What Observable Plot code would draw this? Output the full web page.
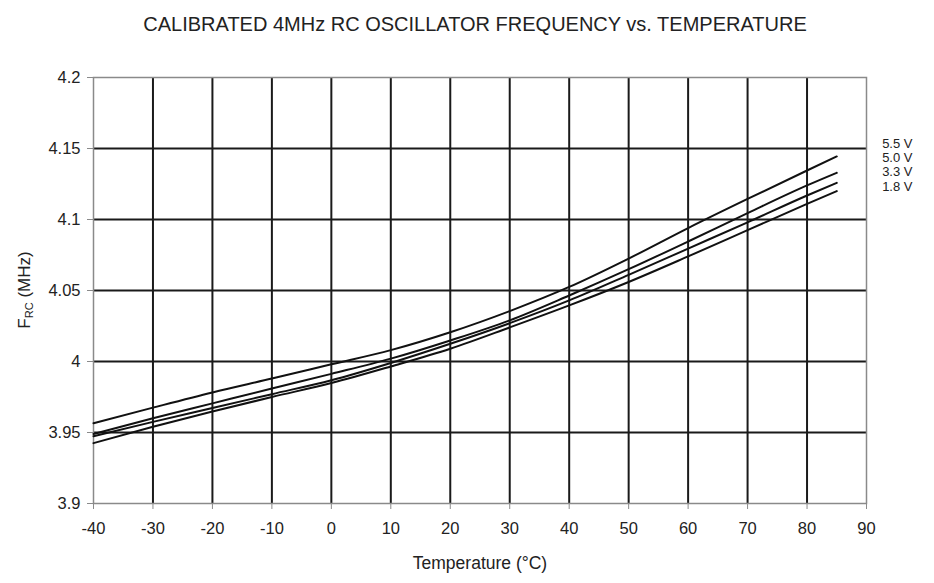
<!DOCTYPE html>
<html>
<head>
<meta charset="utf-8">
<script src="https://cdn.jsdelivr.net/npm/d3@7"></script>
<script src="https://cdn.jsdelivr.net/npm/@observablehq/plot@0.6"></script>
<style>
  html, body { margin: 0; padding: 0; background: #fff; }
  svg { font-family: "Liberation Sans", Arial, sans-serif; }
</style>
</head>
<body>
<div id="chart"></div>
<script>
const temps = [-40, -30, -20, -10, 0, 10, 20, 30, 40, 50, 60, 70, 80, 85];
const v55 = [3.9565, 3.9675, 3.9782, 3.988, 3.998, 4.008, 4.0206, 4.0355, 4.0525, 4.0725, 4.094, 4.1145, 4.1345, 4.1444];
const v50 = [3.949, 3.960, 3.9705, 3.981, 3.9913, 4.002, 4.0148, 4.029, 4.0465, 4.065, 4.0845, 4.1045, 4.124, 4.1329];
const v33 = [3.9474, 3.9575, 3.9672, 3.977, 3.9868, 3.999, 4.0125, 4.027, 4.043, 4.061, 4.0795, 4.098, 4.1169, 4.1258];
const v18 = [3.9425, 3.954, 3.9648, 3.975, 3.9848, 3.9965, 4.009, 4.024, 4.0395, 4.056, 4.074, 4.0925, 4.111, 4.120];
const seriesNames = ["5.5 V", "5.0 V", "3.3 V", "1.8 V"];
const seriesValues = [v55, v50, v33, v18];
const xTicks = [-40, -30, -20, -10, 0, 10, 20, 30, 40, 50, 60, 70, 80, 90];
const yTicks = [3.9, 3.95, 4, 4.05, 4.1, 4.15, 4.2];
const title = "CALIBRATED 4MHz RC OSCILLATOR FREQUENCY vs. TEMPERATURE";
const xLabel = "Temperature (°C)";

const data = [];
seriesNames.forEach((name, i) => {
  temps.forEach((t, j) => data.push({series: name, t, f: seriesValues[i][j]}));
});

const grid = "#1a1a1a";
const axisGray = "#8a8a8a";
const xFmt = d => String(d);
const yFmt = d => String(+d.toFixed(2));

const chart = Plot.plot({
  width: 934,
  height: 583,
  marginTop: 77,
  marginBottom: 80,
  marginLeft: 93,
  marginRight: 68,
  style: {fontFamily: "Liberation Sans, Arial, sans-serif", fontSize: "16px", color: "#222", background: "#fff"},
  x: {domain: [-40, 90], ticks: xTicks, label: null, tickFormat: xFmt},
  y: {domain: [3.9, 4.2], ticks: yTicks, label: null, tickFormat: yFmt},
  marks: [
    Plot.gridX(xTicks.filter(d => d > -40 && d < 90), {stroke: grid, strokeOpacity: 1, strokeWidth: 2}),
    Plot.gridY(yTicks.filter(d => d > 3.9 && d < 4.2), {stroke: grid, strokeOpacity: 1, strokeWidth: 2}),
    Plot.frame({stroke: axisGray, strokeWidth: 1.5}),
    Plot.axisX(xTicks, {stroke: axisGray, fill: "#222", fontSize: 16.5, tickSize: 6, tickPadding: 13, tickFormat: xFmt, label: null}),
    Plot.axisY(yTicks, {stroke: axisGray, fill: "#222", fontSize: 16.5, tickSize: 6, tickPadding: 7, tickFormat: yFmt, label: null}),
    Plot.line(data, {x: "t", y: "f", z: "series", stroke: "#111", strokeWidth: 2, curve: "monotone-x"}),
    Plot.text([seriesNames.join("\n")], {frameAnchor: "top-right", dx: 46, dy: 60, lineAnchor: "top", textAnchor: "end", lineHeight: 1.1, fontSize: 13, fill: "#222"}),
    Plot.text([title], {frameAnchor: "top", dy: -61, dx: -5, fontSize: 20, fill: "#222"}),
    Plot.text([xLabel], {frameAnchor: "bottom", dy: 65, fontSize: 17.5, fill: "#222"})
  ]
});

document.getElementById("chart").appendChild(chart);

// Y-axis label with subscript
const svg = d3.select(chart);
const yl = svg.append("text")
  .attr("transform", "translate(30,290) rotate(-90)")
  .attr("text-anchor", "middle")
  .attr("fill", "#222")
  .attr("font-size", 17)
  .attr("font-family", "Liberation Sans, Arial, sans-serif");
yl.append("tspan").text("F");
yl.append("tspan").attr("font-size", 11).attr("dy", 3).text("RC");
yl.append("tspan").attr("dy", -3).text(" (MHz)");
</script>
</body>
</html>
